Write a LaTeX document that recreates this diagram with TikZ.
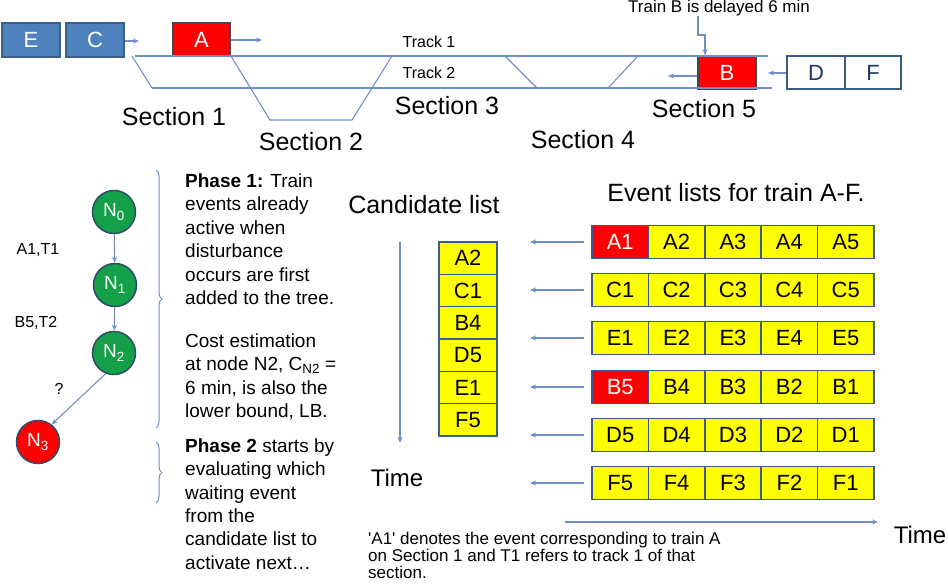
\documentclass[tikz,border=0pt]{standalone}
\usepackage{fontspec}
\setmainfont{Liberation Sans}
\usetikzlibrary{arrows.meta,decorations.pathreplacing}
\definecolor{boxblue}{HTML}{4F81BD}
\definecolor{edgeblue}{HTML}{385D8A}
\definecolor{linkblue}{HTML}{6F8FC8}
\definecolor{evyellow}{HTML}{FFFF00}
\definecolor{nodegreen}{HTML}{14A048}
\definecolor{navytext}{HTML}{1F3864}
\definecolor{boxdark}{HTML}{404858}
\definecolor{circedge}{HTML}{2F4B6B}
\newcommand\fsz[2]{\fontsize{#1}{#2}\selectfont}
\begin{document}
\begin{tikzpicture}[x=1pt,y=-1pt,
  link/.style={draw=linkblue, line width=1.1pt, -{Stealth[length=6pt,width=5pt]}},
  track/.style={draw=linkblue, line width=1.1pt},
  trainbox/.style={draw=edgeblue, line width=1.8pt, fill=boxblue, text=white, minimum width=58pt, minimum height=34pt, inner sep=0pt, font=\fsz{22}{26}},
  redtrain/.style={trainbox, fill=red, draw=boxdark},
  whitetrain/.style={trainbox, fill=white, text=navytext},
  yelcell/.style={draw=edgeblue, line width=1.5pt, fill=evyellow, text=black, minimum width=56.4pt, minimum height=33pt, inner sep=0pt, font=\fsz{22}{26}},
  redcell/.style={yelcell, fill=red, text=white},
  candcell/.style={yelcell, minimum width=58pt, minimum height=32.33pt},
  treenode/.style={circle, draw=circedge, line width=1.5pt, fill=nodegreen, text=white, minimum size=43pt, inner sep=0pt, font=\fsz{19}{22}},
  redtree/.style={treenode, fill=red},
  sectlabel/.style={font=\fsz{25}{30}, inner sep=0pt},
  tracklabel/.style={font=\fsz{16}{19}, inner sep=0pt},
  phasetxt/.style={font=\fsz{19}{23}, inner sep=0pt, anchor=base west},
  notetxt/.style={font=\fsz{17}{20}, inner sep=0pt, anchor=base west},
  bigtxt/.style={font=\fsz{25}{30}, inner sep=0pt},
  phasebrace/.style={draw=linkblue, line width=1pt, decorate, decoration={brace, amplitude=6pt}}
]
\useasboundingbox (0,0) rectangle (948,586);

% ---------------- top: tracks ----------------
\node[trainbox] (E) at (31,40) {E};
\node[trainbox] (C) at (95,40) {C};
\node[redtrain, minimum width=57pt, minimum height=33pt] (A) at (201.5,39.5) {A};
\node[redtrain, minimum height=33pt] (B) at (727,72.5) {B};
\node[whitetrain, minimum height=33pt] (D) at (816,72.5) {D};
\node[whitetrain, minimum width=56pt, minimum height=33pt] (F) at (873,72.5) {F};

\coordinate (cgo) at (139,41);
\coordinate (ago) at (262,40);
\coordinate (bgo) at (668,76);
\coordinate (dgo) at (768,73);
\draw[link] (C.east |- cgo) -- (cgo);
\draw[link] (A.east |- ago) -- (ago);
\draw[link] (B.west |- bgo) -- (bgo);
\draw[link] (D.west |- dgo) -- (dgo);

\coordinate (t1a) at (135,56);
\coordinate (t1b) at (768,56);
\coordinate (t2a) at (152,88);
\coordinate (t2b) at (772,88);
\draw[track] (t1a) -- (t1b);
\draw[track] (t2a) -- (t2b);
\draw[track] (132,56) -- (t2a);
\draw[track] (231,56) -- (270,120) -- (352,120) -- (392,56);
\draw[track] (505,56) -- (537,88);
\draw[track] (638,56) -- (608,88);

\node[tracklabel] (tr1) at (429,42) {Track 1};
\node[tracklabel] (tr2) at (429,73) {Track 2};
\node[sectlabel] (s1) at (174,117) {Section 1};
\node[sectlabel] (s2) at (311,142) {Section 2};
\node[sectlabel] (s3) at (447,106) {Section 3};
\node[sectlabel] (s4) at (583,140) {Section 4};
\node[sectlabel] (s5) at (704,109) {Section 5};

\node[font=\fsz{17}{20}, inner sep=0pt] (delay) at (719,8) {Train B is delayed 6 min};
\coordinate (dl1) at (698,35);
\coordinate (dl2) at (705,35);
\draw[link] (delay.south -| dl1) -- (dl1) -- (dl2) -- (B.north -| dl2);

% ---------------- tree ----------------
\node[treenode] (n0) at (114,212) {N\textsubscript{0}};
\node[treenode] (n1) at (115,285) {N\textsubscript{1}};
\node[treenode] (n2) at (114,353) {N\textsubscript{2}};
\node[redtree] (n3) at (38,442) {N\textsubscript{3}};
\draw[link] (n0) -- (n1);
\draw[link] (n1) -- (n2);
\draw[link] (n2.248) -- (n3.52);
\node[tracklabel] (l1) at (38,250) {A1,T1};
\node[tracklabel] (l2) at (36,323) {B5,T2};
\node[tracklabel] (l3) at (59,389) {?};

\draw[phasebrace] (156,170) -- (156,428);
\draw[phasebrace] (156,442) -- (156,503);

\node[phasetxt] (p1) at (185,187) {\textbf{Phase 1:} Train};
\node[phasetxt] (p2) at (185,210) {events already};
\node[phasetxt] (p3) at (185,234) {active when};
\node[phasetxt] (p4) at (185,257) {disturbance};
\node[phasetxt] (p5) at (185,281) {occurs are first};
\node[phasetxt] (p6) at (185,304) {added to the tree.};
\node[phasetxt] (q1) at (185,347) {Cost estimation};
\node[phasetxt] (q2) at (185,370) {at node N2, C\textsubscript{N2} =};
\node[phasetxt] (q3) at (185,394) {6 min, is also the};
\node[phasetxt] (q4) at (185,417) {lower bound, LB.};
\node[phasetxt] (r1) at (185,452) {\textbf{Phase 2} starts by};
\node[phasetxt] (r2) at (185,475) {evaluating which};
\node[phasetxt] (r3) at (185,499) {waiting event};
\node[phasetxt] (r4) at (185,522) {from the};
\node[phasetxt] (r5) at (185,545) {candidate list to};
\node[phasetxt] (r6) at (185,569) {activate next…};

% ---------------- candidate list ----------------
\node[bigtxt] (candtitle) at (424,205) {Candidate list};
\foreach \i/\lab in {1/A2,2/C1,3/B4,4/D5,5/E1,6/F5}{
  \node[candcell] (cand\i) at (468,{242+32.33*(\i-0.5)}) {\lab};
}
\coordinate (tv1) at (400,242);
\coordinate (tv2) at (400,443);
\draw[link] (tv1) -- (tv2);
\node[font=\fsz{24}{28}, inner sep=0pt] (timev) at (397,478) {Time};

% ---------------- event lists ----------------
\node[bigtxt] (evtitle) at (736,193) {Event lists for train A-F.};
\foreach \r/\y/\t/\rev/\first in {1/242/A/0/redcell,2/290/C/0/yelcell,3/338/E/0/yelcell,4/387/B/1/redcell,5/435/D/1/yelcell,6/483/F/1/yelcell}{
  \pgfmathtruncatemacro\numa{\rev==1 ? 5 : 1}
  \node[\first] (ev\r-1) at (620.2,\y) {\t\numa};
  \foreach \c in {2,...,5}{
    \pgfmathtruncatemacro\num{\rev==1 ? 6-\c : \c}
    \node[yelcell] (ev\r-\c) at ({592+56.4*(\c-0.5)},\y) {\t\num};
  }
  \coordinate (ea\r) at (530,\y);
  \draw[link, shorten <=7pt] (ev\r-1.west) -- (ea\r);
}

\coordinate (th1) at (565,522);
\coordinate (th2) at (878,522);
\draw[link] (th1) -- (th2);
\node[font=\fsz{24}{28}, inner sep=0pt] (timeh) at (920,535) {Time};

\node[notetxt] (nt1) at (368,544) {\textquotesingle A1\textquotesingle\ denotes the event corresponding to train A};
\node[notetxt] (nt2) at (368,561) {on Section 1 and T1 refers to track 1 of that};
\node[notetxt] (nt3) at (368,578) {section.};
\end{tikzpicture}
\end{document}
